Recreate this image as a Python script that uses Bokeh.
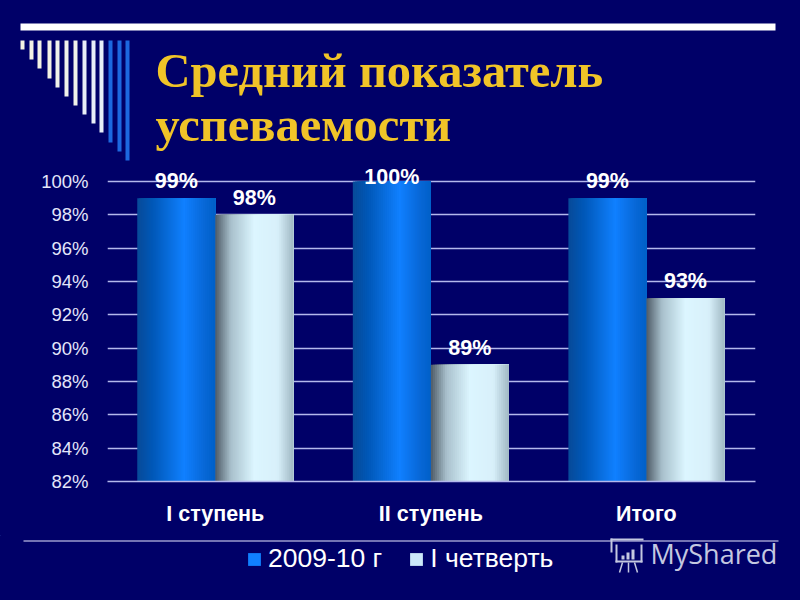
import numpy as np
from bokeh.plotting import figure
from bokeh.layouts import column
from bokeh.models import Legend, LegendItem, FixedTicker, Range1d
from bokeh.core.properties import value
from bokeh.embed import file_html
from bokeh.resources import INLINE

categories = ["I ступень", "II ступень", "Итого"]
series_names = ["2009-10 г", "I четверть"]
values_2009 = [99, 100, 99]
values_q1 = [98, 89, 93]
y_ticks = [82, 84, 86, 88, 90, 92, 94, 96, 98, 100]
title_lines = ["Средний показатель", "успеваемости"]

BG = "#000068"
W = 800
TOP_H, MID_H, BOT_H = 165, 370, 65

def deco_fig(h, y0):
    f = figure(width=W, height=h, output_backend="svg", toolbar_location=None,
               x_range=Range1d(0, W), y_range=Range1d(y0 + h, y0),
               x_axis_location=None, y_axis_location=None,
               background_fill_color=None, border_fill_color=None,
               min_border=0, frame_align=False)
    f.outline_line_color = None
    f.xgrid.visible = False
    f.ygrid.visible = False
    return f

# ---- top band: rule, comb, title
top = deco_fig(TOP_H, 0)
top.quad(left=[20], right=[775], top=[23], bottom=[30], fill_color="#ffffff", line_color=None)
comb_x = [20, 29, 37, 47, 55, 64, 73, 82, 91, 99, 108, 117, 125]
comb_b = [49, 59, 68, 78, 87, 96, 105, 114, 123, 132, 142, 151, 160]
comb_c = ["#f4f2e4"] * 4 + ["#f0f2ea"] * 3 + ["#e8eef8"] * 3 + ["#1c68e0"] * 3
top.quad(left=comb_x, right=[x + 4 for x in comb_x], top=[40] * 13, bottom=comb_b,
         fill_color=comb_c, line_color=None)
top.text(x=[155, 155], y=[70, 124], text=title_lines, text_baseline="alphabetic",
         text_font=value("Liberation Serif"), text_font_style="bold",
         text_font_size="48.5px", text_color="#f0c428")

# ---- chart
p = figure(width=W, height=MID_H, output_backend="svg", toolbar_location=None,
           x_range=Range1d(0, 3.006), y_range=Range1d(82, 100.96),
           background_fill_color=None, border_fill_color=None, frame_align=False,
           min_border_left=107, min_border_right=45, min_border_top=0, min_border_bottom=54)
p.outline_line_color = None
p.xgrid.visible = False
p.ygrid.ticker = FixedTicker(ticks=y_ticks)
p.ygrid.grid_line_color = "#b4b8ec"
p.ygrid.grid_line_width = 1.5

p.yaxis.ticker = FixedTicker(ticks=y_ticks)
p.yaxis.major_label_overrides = {t: f"{t}%" for t in y_ticks}
p.yaxis.major_label_text_font = "Liberation Sans"
p.yaxis.major_label_text_font_size = "18.5px"
p.yaxis.major_label_text_color = "#e4e6fa"
p.yaxis.axis_line_color = None
p.yaxis.major_tick_line_color = None
p.yaxis.minor_tick_line_color = None
p.yaxis.major_label_standoff = 13

p.xaxis.ticker = FixedTicker(ticks=[i + 0.5 for i in range(3)])
p.xaxis.major_label_overrides = {i + 0.5: c for i, c in enumerate(categories)}
p.xaxis.major_label_text_font = "Liberation Sans"
p.xaxis.major_label_text_font_style = "bold"
p.xaxis.major_label_text_font_size = "21.5px"
p.xaxis.major_label_text_color = "#ffffff"
p.xaxis.axis_line_color = "#b4b8ec"
p.xaxis.axis_line_width = 1.5
p.xaxis.major_tick_line_color = None
p.xaxis.minor_tick_line_color = None
p.xaxis.major_label_standoff = 14

BAR_W = 78 / 215.5
N = 39
def hex2rgb(h): return np.array([int(h[i:i + 2], 16) for i in (1, 3, 5)], float)
def ramp(stops):
    pos = [s[0] for s in stops]
    cols = np.array([hex2rgb(s[1]) for s in stops])
    out = []
    for t in (np.arange(N) + 0.5) / N:
        c = [np.interp(t, pos, cols[:, k]) for k in range(3)]
        out.append("#%02x%02x%02x" % tuple(int(round(v)) for v in c))
    return out

blue_ramp = ramp([(0, "#084a98"), (0.2, "#0058b8"), (0.6, "#1080ff"), (0.85, "#0868d8"), (1, "#0060c8")])
light_ramp = ramp([(0, "#4e5a66"), (0.2, "#a8c0cc"), (0.5, "#dcf6ff"), (0.8, "#d8f0fa"), (1, "#a0b8c4")])

def bars(vals, ramp_cols, side):
    # each strip reaches the bar's right edge and is painted over by the next: no seams
    step = BAR_W / N
    centres = [i + 0.5 + side * BAR_W for i in range(3)]
    for k, col in enumerate(ramp_cols):
        w = BAR_W - k * step
        xs = [c + BAR_W / 2 - w / 2 for c in centres]
        p.vbar(x=xs, width=w, bottom=82, top=vals, fill_color=col, line_color=None)

bars(values_2009, blue_ramp, -0.5)
bars(values_q1, light_ramp, 0.5)

lab_x = [i + 0.5 - BAR_W / 2 for i in range(3)] + [i + 0.5 + BAR_W / 2 for i in range(3)]
lab_y = values_2009 + values_q1
lab_off = [-5 if v < 100 else 7 for v in lab_y]
p.text(x=lab_x, y=lab_y, text=[f"{v}%" for v in lab_y], y_offset=lab_off,
       text_align="center", text_baseline="bottom",
       text_font=value("Liberation Sans"), text_font_style="bold",
       text_font_size="21.5px", text_color="#ffffff")

# ---- bottom band: rule, legend, watermark
bot = deco_fig(BOT_H, 535)
bot.quad(left=[23], right=[778], top=[540], bottom=[541], fill_color="#e8e8ff", line_color=None)
r1 = bot.vbar(x=[-50], width=1, bottom=[0], top=[1], fill_color="#1080ff", line_color=None)
r2 = bot.vbar(x=[-50], width=1, bottom=[0], top=[1], fill_color="#cce8fa", line_color=None)
legend = Legend(items=[LegendItem(label=series_names[0], renderers=[r1]),
                       LegendItem(label=series_names[1], renderers=[r2])],
                orientation="horizontal", location=(246, 26),
                background_fill_alpha=0, border_line_color=None,
                label_text_font="Liberation Sans", label_text_font_size="26.5px",
                label_text_color="#ffffff", glyph_width=16, glyph_height=16,
                spacing=26, label_standoff=6, margin=0, padding=0)
bot.add_layout(legend, "center")
bot.text(x=[650], y=[553], text=["MyShared"], text_baseline="alphabetic",
         text_font=value("Open Sans"), text_font_size="27px", text_color="#c4c8e0")
ic = "#c4c8e0"
# icon: scroll outline, board, bars
bot.quad(left=[610, 610, 615, 640, 615, 621, 626, 631],
         right=[643, 612, 617, 642, 642, 624, 629, 634],
         top=[538, 538, 544, 544, 560, 555, 552, 549],
         bottom=[540, 552, 562, 562, 562, 559, 559, 559],
         fill_color=ic, line_color=None)
bot.segment(x0=[622, 634, 628], y0=[562, 562, 562], x1=[619, 637, 628], y1=[572, 572, 572],
            line_color=ic, line_width=1.5)

html = file_html(column(top, p, bot, spacing=0), INLINE)
html = html.replace("<head>", f"<head><style>html,body{{background:{BG};}}</style>", 1)
open("out.html", "w").write(html)
